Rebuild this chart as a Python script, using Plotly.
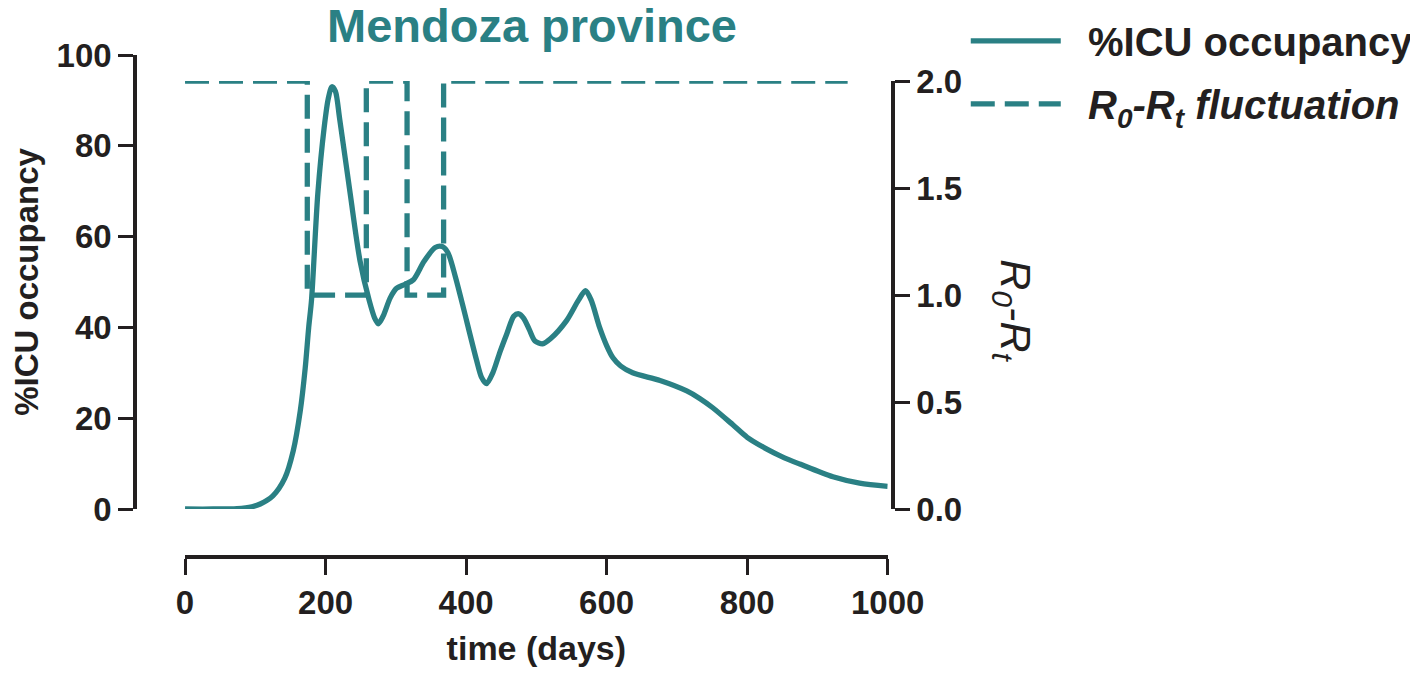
import plotly.graph_objects as go

# %ICU occupancy curve
icu_days = [0, 40, 74, 95, 107, 125, 142, 154, 164, 171, 176, 180, 189, 198, 204, 209, 214, 220,
            235, 249, 262, 270, 275, 282, 292, 301, 313, 325, 340, 356, 366, 374, 385, 395, 415,
            422, 429, 438, 448, 458, 468, 475, 482, 490, 498, 509, 520, 543, 560, 570, 578, 590, 600,
            609, 620, 637, 676, 714, 733, 751, 780, 800, 828, 850, 875, 922, 960, 1000]
icu_vals = [0, 0, 0.1, 0.5, 1.1, 2.9, 6.8, 12.8, 21.6, 31, 40, 46, 69.5, 84, 90.5, 93, 92, 86,
            69.5, 54.7, 46, 42, 40.8, 42.5, 46.5, 48.6, 49.5, 50.5, 54.5, 57.6, 57.8, 56.5, 51, 45, 32.7,
            29, 27.6, 30, 34.5, 38.6, 42.5, 43, 42, 39.5, 37, 36.4, 37.5, 41.5, 46, 48.1, 46, 40, 36,
            33.3, 31.5, 30, 28.3, 26, 24.3, 22.3, 18.5, 15.8, 13.2, 11.5, 9.9, 7.1, 5.7, 5.0]

# R0-Rt fluctuation (step function)
r_days = [0, 174, 258, 316, 368, 943]
r_vals = [2, 1, 2, 1, 2, 2]

x_ticks = [0, 200, 400, 600, 800, 1000]
y_ticks = [0, 20, 40, 60, 80, 100]
y2_ticks = [0, 0.5, 1.0, 1.5, 2.0]

TEAL = "#2a8084"
INK = "#231f20"
FONT = "Liberation Sans"

fig = go.Figure()
fig.add_trace(go.Scatter(
    x=icu_days, y=icu_vals, mode="lines", name="&nbsp;&nbsp;<b>%ICU occupancy</b>",
    line=dict(color=TEAL, width=5.3, shape="spline", smoothing=0.8),
    xaxis="x", yaxis="y", legendgroup="a"))
fig.add_trace(go.Scatter(
    x=r_days, y=r_vals, mode="lines",
    name="&nbsp;&nbsp;<b><i>R<sub>0</sub>-R<sub>t</sub> fluctuation</i></b>",
    line=dict(color=TEAL, width=5.3, shape="hv", dash="24px,10px"),
    xaxis="x", yaxis="y2", legendgroup="b"))

axis_common = dict(showline=True, linewidth=3.5, linecolor=INK, ticks="outside",
                   tickwidth=3, tickcolor=INK, showgrid=False, zeroline=False,
                   tickfont=dict(family=FONT, size=33, color=INK, weight="bold"))

W, H = 1410, 659  # page body adds an 8px margin

fig.update_layout(
    width=W, height=H,
    margin=dict(l=127, r=525, t=47, b=110, pad=0, autoexpand=False),
    paper_bgcolor="white", plot_bgcolor="rgba(0,0,0,0)",
    title=dict(text="<b>Mendoza province</b>", x=(532 - 8) / W, xanchor="center",
               xref="container", yref="container", y=1 - (26 - 8) / H, yanchor="middle",
               font=dict(family=FONT, size=47, color=TEAL)),
    xaxis=dict(domain=[0.066, 0.993], range=[0, 1000], anchor="free", position=0,
               tickvals=x_ticks, ticklen=16,
               title=dict(text="<b>time (days)</b>", standoff=23,
                          font=dict(family=FONT, size=34, color=INK)),
               **axis_common),
    yaxis=dict(domain=[0.0956, 1], range=[0, 100], anchor="free", position=0,
               tickvals=y_ticks, ticklen=15,
               title=dict(text="<b>%ICU occupancy</b>", standoff=15,
                          font=dict(family=FONT, size=33, color=INK)),
               **axis_common),
    yaxis2=dict(domain=[0.0956, 0.948], range=[0, 2], anchor="free", position=1,
                side="right", tickvals=y2_ticks, tickformat=".1f", ticklen=15,
                **axis_common),
    showlegend=True,
    legend=dict(x=1.096, y=1.093, xanchor="left", yanchor="top", xref="paper", yref="paper",
                itemwidth=90, tracegroupgap=8, bgcolor="rgba(0,0,0,0)",
                font=dict(family=FONT, size=40, color=INK)),
    annotations=[dict(text="<i>R<sub>0</sub>-R<sub>t</sub></i>", textangle=90,
                      x=1.158, y=0.49, xref="paper", yref="paper",
                      xanchor="center", yanchor="middle", showarrow=False,
                      font=dict(family=FONT, size=43, color=INK))],
)

fig.write_html("out.html")
